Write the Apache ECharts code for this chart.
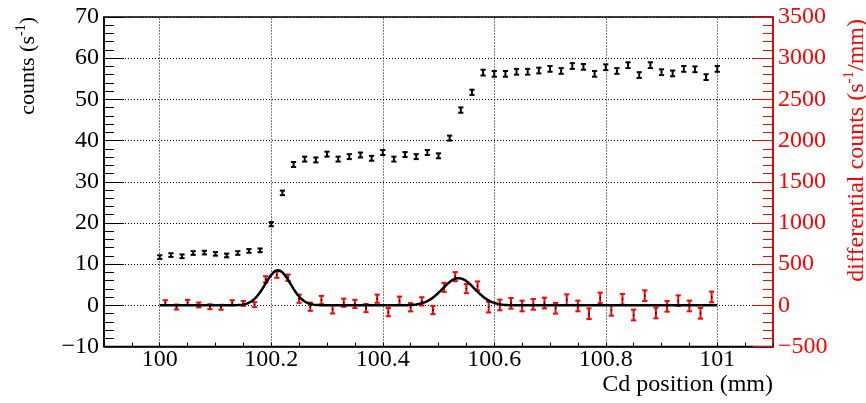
<!DOCTYPE html>
<html>
<head>
<meta charset="utf-8">
<script src="https://cdn.jsdelivr.net/npm/echarts@6/dist/echarts.min.js"></script>
<style>
html, body { margin: 0; padding: 0; background: #fff; }
#chart { width: 866px; height: 403px; }
</style>
</head>
<body>
<div id="chart"></div>
<script>
// Cd scan positions (mm) for the count-rate measurements
const countPos = [
  100.00, 100.02, 100.04, 100.06, 100.08, 100.10, 100.12, 100.14, 100.16, 100.18,
  100.20, 100.22, 100.24, 100.26, 100.28, 100.30, 100.32, 100.34, 100.36, 100.38,
  100.40, 100.42, 100.44, 100.46, 100.48, 100.50, 100.52, 100.54, 100.56, 100.58,
  100.60, 100.62, 100.64, 100.66, 100.68, 100.70, 100.72, 100.74, 100.76, 100.78,
  100.80, 100.82, 100.84, 100.86, 100.88, 100.90, 100.92, 100.94, 100.96, 100.98,
  101.00
];
// count rate (1/s)
const countRate = [
  11.7, 12.2, 11.9, 12.7, 12.8, 12.5, 12.1, 12.7, 13.2, 13.35,
  19.7, 27.3, 34.2, 35.5, 35.3, 36.7, 35.5, 36.1, 36.5, 35.7,
  37.1, 35.5, 36.6, 36.1, 37.1, 36.3, 40.6, 47.4, 51.7, 56.5,
  56.2, 56.2, 56.7, 56.7, 57.0, 57.4, 56.9, 58.1, 57.9, 56.2,
  57.8, 56.9, 58.3, 55.9, 58.3, 56.6, 56.3, 57.4, 57.3, 55.4,
  57.4
];
const countErr = [
  0.45, 0.45, 0.45, 0.45, 0.45, 0.45, 0.45, 0.45, 0.45, 0.45,
  0.5, 0.55, 0.6, 0.6, 0.6, 0.6, 0.6, 0.6, 0.6, 0.6,
  0.6, 0.6, 0.6, 0.6, 0.6, 0.6, 0.6, 0.65, 0.65, 0.7,
  0.7, 0.7, 0.7, 0.7, 0.7, 0.7, 0.7, 0.7, 0.7, 0.7,
  0.7, 0.7, 0.7, 0.7, 0.7, 0.7, 0.7, 0.7, 0.7, 0.7,
  0.7
];

// mid-points between scan positions for the differential counts
const diffPos = [
  100.01, 100.03, 100.05, 100.07, 100.09, 100.11, 100.13, 100.15, 100.17, 100.19,
  100.21, 100.23, 100.25, 100.27, 100.29, 100.31, 100.33, 100.35, 100.37, 100.39,
  100.41, 100.43, 100.45, 100.47, 100.49, 100.51, 100.53, 100.55, 100.57, 100.59,
  100.61, 100.63, 100.65, 100.67, 100.69, 100.71, 100.73, 100.75, 100.77, 100.79,
  100.81, 100.83, 100.85, 100.87, 100.89, 100.91, 100.93, 100.95, 100.97, 100.99
];
// differential counts (1/s/mm)
const diffRate = [
  32, -21, 36, 4, -17, -24, 32, 24, 8, 315,
  372, 335, 80, -17, 64, -49, 32, 16, -33, 80,
  -83, 56, -24, 48, -57, 218, 348, 202, 235, -21,
  4, 24, -8, 12, 28, -36, 68, -8, -102, 89,
  -61, 73, -118, 117, -93, -12, 56, -8, -97, 101
];
const diffErr = [
  30, 30, 30, 30, 30, 30, 30, 30, 30, 38,
  38, 38, 50, 50, 50, 50, 50, 50, 50, 50,
  50, 50, 50, 50, 50, 55, 55, 55, 55, 65,
  65, 65, 65, 65, 65, 65, 65, 65, 65, 65,
  65, 65, 65, 65, 65, 65, 65, 65, 65, 65
];

// double-Gaussian fit of the differential counts
const fitMean = [100.212, 100.536];
const fitSigma = [0.0228, 0.029];
const fitAmp = [425, 330];
const fitRange = [100.0, 101.0];

// axis tick labels
const xLabels = [100, 100.2, 100.4, 100.6, 100.8, 101];

const FONT = "'Liberation Serif', 'DejaVu Serif', serif";
const RED = '#ff0000';

function fitValue(x) {
  let s = 0;
  for (let i = 0; i < fitMean.length; i++) {
    const d = (x - fitMean[i]) / fitSigma[i];
    s += fitAmp[i] * Math.exp(-0.5 * d * d);
  }
  return s;
}
const fitCurve = [];
for (let k = 0; k <= 500; k++) {
  const x = fitRange[0] + (fitRange[1] - fitRange[0]) * k / 500;
  fitCurve.push([x, fitValue(x)]);
}

function minusFmt(v) {
  const n = Math.round(v * 1000) / 1000;
  return n < 0 ? '\u2212' + (-n) : String(n);
}

// error bar with caps drawn through the axis scales
function errorBars(color, dotColor) {
  return function (params, api) {
    const x = api.value(0), y = api.value(1), e = api.value(2);
    const top = api.coord([x, y + e]);
    const bot = api.coord([x, y - e]);
    const mid = api.coord([x, y]);
    const cap = 2.6;
    const st = { stroke: color, lineWidth: 2 };
    const children = [
      { type: 'line', shape: { x1: top[0], y1: top[1], x2: bot[0], y2: bot[1] }, style: st },
      { type: 'line', shape: { x1: top[0] - cap, y1: top[1], x2: top[0] + cap, y2: top[1] }, style: st },
      { type: 'line', shape: { x1: bot[0] - cap, y1: bot[1], x2: bot[0] + cap, y2: bot[1] }, style: st }
    ];
    if (dotColor) {
      children.push({ type: 'rect', shape: { x: mid[0] - 0.75, y: mid[1] - 0.75, width: 1.5, height: 1.5 },
        style: { fill: dotColor } });
    }
    return { type: 'group', children: children };
  };
}

const chart = echarts.init(document.getElementById('chart'), null, { renderer: 'canvas' });

const option = {
  animation: false,
  backgroundColor: '#fff',
  grid: {
    left: 104, right: 93, top: 17, bottom: 56.5,
    show: true, borderColor: '#000', borderWidth: 1.5,
    outerBoundsMode: 'none'
  },
  xAxis: [{
    type: 'value', min: 99.9, max: 101.1, interval: 0.05,
    axisLine: { show: true, onZero: false, lineStyle: { color: '#000', width: 1.5 } },
    axisTick: { show: true, inside: true, length: 4, lineStyle: { color: '#000', width: 1 } },
    axisLabel: {
      customValues: xLabels,
      formatter: function (v) { return String(Math.round(v * 10) / 10); },
      fontFamily: FONT, fontSize: 24, color: '#000', margin: 1
    },
    splitLine: { show: false }
  }],
  yAxis: [{
    type: 'value', min: -10, max: 70, interval: 10, position: 'left',
    axisLine: { show: true, onZero: false, lineStyle: { color: '#000', width: 1.5 } },
    axisTick: { show: true, inside: true, length: 20, lineStyle: { color: '#000', width: 1 } },
    minorTick: { show: true, splitNumber: 5, length: 10, lineStyle: { color: '#000', width: 1 } },
    axisLabel: { formatter: minusFmt, fontFamily: FONT, fontSize: 24, color: '#000', margin: 5 },
    splitLine: { show: true, lineStyle: { color: '#000', width: 1, type: [1, 2] } }
  }, {
    type: 'value', min: -500, max: 3500, interval: 500, position: 'right',
    axisLine: { show: true, onZero: false, lineStyle: { color: RED, width: 1.5 } },
    axisTick: { show: true, inside: true, length: 20, lineStyle: { color: RED, width: 1 } },
    minorTick: { show: true, splitNumber: 5, length: 10, lineStyle: { color: RED, width: 1 } },
    axisLabel: { formatter: minusFmt, fontFamily: FONT, fontSize: 24, color: RED, margin: 5 },
    splitLine: { show: false }
  }],
  graphic: [
    {
      type: 'text', x: 773, y: 385,
      style: {
        text: 'Cd position (mm)', font: '24px ' + FONT, fill: '#000',
        align: 'right', verticalAlign: 'middle'
      }
    },
    {
      type: 'text', x: 26, y: 17, rotation: Math.PI / 2,
      style: {
        text: '{n|counts (s}{s|-1}{n|)}',
        align: 'right', verticalAlign: 'middle',
        rich: {
          n: { fontFamily: FONT, fontSize: 22, fill: '#000', lineHeight: 26, verticalAlign: 'bottom' },
          s: { fontFamily: FONT, fontSize: 14, fill: '#000', lineHeight: 26, verticalAlign: 'top', padding: [1, 0, 0, 0] }
        }
      }
    },
    {
      type: 'text', x: 855, y: 19, rotation: Math.PI / 2,
      style: {
        text: '{n|differential counts (s}{s|-1}{n|/mm)}',
        align: 'right', verticalAlign: 'middle',
        rich: {
          n: { fontFamily: FONT, fontSize: 24, fill: RED, lineHeight: 28, verticalAlign: 'bottom' },
          s: { fontFamily: FONT, fontSize: 15, fill: RED, lineHeight: 28, verticalAlign: 'top', padding: [1, 0, 0, 0] }
        }
      }
    }
  ],
  series: [
    {
      name: 'grid-x', type: 'line', xAxisIndex: 0, yAxisIndex: 0, data: [],
      silent: true, z: 1,
      markLine: {
        silent: true, symbol: 'none', label: { show: false },
        lineStyle: { color: '#000', width: 1, type: [1, 2] },
        data: xLabels.map(function (v) { return { xAxis: v }; })
      }
    },
    {
      name: 'differential counts', type: 'custom', xAxisIndex: 0, yAxisIndex: 1, z: 3,
      renderItem: errorBars(RED, '#000'),
      encode: { x: 0, y: 1 },
      data: diffPos.map(function (x, i) { return [x, diffRate[i], diffErr[i]]; })
    },
    {
      name: 'fit', type: 'line', xAxisIndex: 0, yAxisIndex: 1, z: 4,
      showSymbol: false, symbol: 'none',
      lineStyle: { color: '#000', width: 2.5 },
      data: fitCurve
    },
    {
      name: 'counts', type: 'custom', xAxisIndex: 0, yAxisIndex: 0, z: 5,
      renderItem: errorBars('#000', null),
      encode: { x: 0, y: 1 },
      data: countPos.map(function (x, i) { return [x, countRate[i], countErr[i]]; })
    }
  ]
};

chart.setOption(option);
</script>
</body>
</html>
